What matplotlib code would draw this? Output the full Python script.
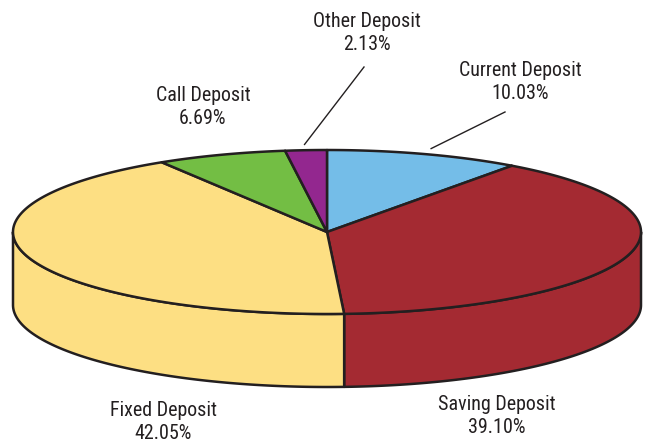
import matplotlib.pyplot as plt
import numpy as np
from matplotlib.patches import Polygon

labels = ['Current Deposit', 'Saving Deposit', 'Fixed Deposit', 'Call Deposit', 'Other Deposit']
shares = [10.03, 39.10, 42.05, 6.69, 2.13]
colors = ['#74BDE8', '#A42A32', '#FDDF83', '#73BE44', '#93278F']

plt.rcParams['font.family'] = ['Roboto Condensed', 'Archivo Narrow', 'DejaVu Sans']

# pie geometry in pixel space
cx, cy, a, b, depth = 327, 232, 314, 82, 73
edge = '#231F20'
lw = 1.8


def pt(t, r=1.0, dy=0.0):
    return cx + r * a * np.cos(np.radians(t)), cy - r * b * np.sin(np.radians(t)) + dy


fig = plt.figure(figsize=(6.45, 4.46), dpi=100)
ax = fig.add_axes([0, 0, 1, 1])
ax.set_xlim(0, 645)
ax.set_ylim(446, 0)
ax.axis('off')

bounds = 90 - np.concatenate([[0], np.cumsum(shares)]) * 3.6

# side walls (front half only)
for i in range(len(shares)):
    t0, t1 = bounds[i], bounds[i + 1]  # t0 > t1, clockwise
    for shift in (0, 360, -360):
        hi = min(t0 + shift, 0)
        lo = max(t1 + shift, -180)
        if hi > lo:
            ts = np.linspace(hi, lo, 120)
            top = [pt(t) for t in ts]
            bot = [pt(t, dy=depth) for t in ts[::-1]]
            ax.add_patch(Polygon(top + bot, closed=True, facecolor=colors[i],
                                 edgecolor=edge, linewidth=lw, joinstyle='round'))

# top faces
for i in range(len(shares)):
    ts = np.linspace(bounds[i], bounds[i + 1], 200)
    verts = [(cx, cy)] + [pt(t) for t in ts]
    ax.add_patch(Polygon(verts, closed=True, facecolor=colors[i],
                         edgecolor=edge, linewidth=lw, joinstyle='round'))

# labels
text_pos = {
    'Current Deposit': (520, 82),
    'Saving Deposit': (497, 416),
    'Fixed Deposit': (163, 422),
    'Call Deposit': (203, 107),
    'Other Deposit': (367, 33),
}
leader_end = {
    'Current Deposit': (505, 112),
    'Other Deposit': (364, 67),
}
for i, lab in enumerate(labels):
    x, y = text_pos[lab]
    ax.text(x, y, '{}\n{:.2f}%'.format(lab, shares[i]), ha='center', va='center',
            fontsize=14.4, color='#231F20', linespacing=1.22)
    if lab in leader_end:
        mid = (bounds[i] + bounds[i + 1]) / 2
        sx, sy = pt(mid, r=1.07)
        ex, ey = leader_end[lab]
        ax.plot([sx, ex], [sy, ey], color=edge, linewidth=1.0)

fig.savefig('out.png', dpi=100)
